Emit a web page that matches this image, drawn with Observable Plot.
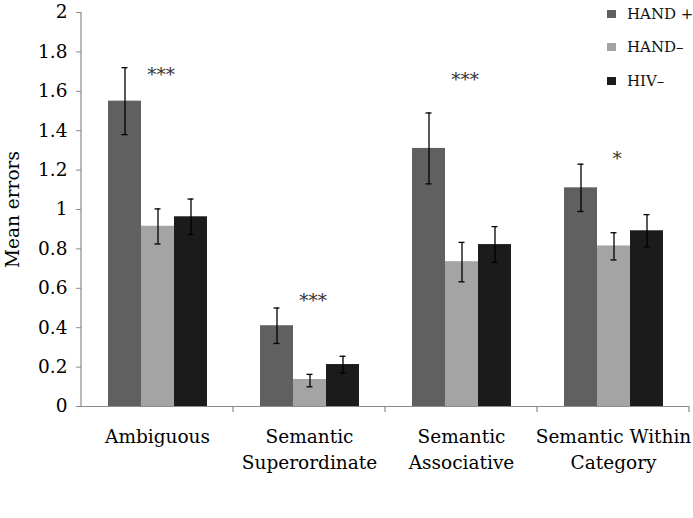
<!DOCTYPE html>
<html><head><meta charset="utf-8">
<script src="https://cdn.jsdelivr.net/npm/d3@7"></script>
<script src="https://cdn.jsdelivr.net/npm/@observablehq/plot@0.6"></script>
<style>
body{margin:0;background:#fff;}
#wrap{position:relative;width:693px;height:518px;font-family:"DejaVu Serif",serif;}
#legend{position:absolute;left:607px;top:0;font-size:15px;color:#111;}
#legend .row{position:absolute;left:0;display:flex;align-items:center;white-space:nowrap;height:20px;}
#legend .sw{width:9px;height:8px;margin-right:11px;}
</style></head><body><div id="wrap"><div id="legend"></div></div>
<script>
const categories = ["Ambiguous", "Semantic\nSuperordinate", "Semantic\nAssociative", "Semantic Within\nCategory"];
const groups = ["HAND +", "HAND–", "HIV–"];
const colors = ["#606060", "#a4a4a4", "#1b1b1b"];

const handPlus   = [1.55, 0.41, 1.31, 1.11];
const handPlusLo = [1.38, 0.32, 1.13, 0.99];
const handPlusHi = [1.72, 0.50, 1.49, 1.23];

const handMinus   = [0.915, 0.137, 0.735, 0.815];
const handMinusLo = [0.825, 0.10, 0.633, 0.744];
const handMinusHi = [1.003, 0.163, 0.833, 0.882];

const hivMinus   = [0.963, 0.213, 0.822, 0.892];
const hivMinusLo = [0.873, 0.17, 0.732, 0.81];
const hivMinusHi = [1.053, 0.255, 0.913, 0.974];

const starLabels = ["***", "***", "***", "*"];
const starY = [1.70, 0.55, 1.67, 1.27];

const yTicks = [0, 0.2, 0.4, 0.6, 0.8, 1, 1.2, 1.4, 1.6, 1.8, 2];

const series = [
  [handPlus, handPlusLo, handPlusHi],
  [handMinus, handMinusLo, handMinusHi],
  [hivMinus, hivMinusLo, hivMinusHi]
];
const rows = [];
categories.forEach((cat, i) => {
  groups.forEach((g, j) => {
    rows.push({cat, group: g, value: series[j][0][i], lo: series[j][1][i], hi: series[j][2][i]});
  });
});
const stars = categories.map((cat, i) => ({cat, label: starLabels[i], y: starY[i]}));

const chart = Plot.plot({
  width: 693,
  height: 518,
  marginLeft: 81,
  marginRight: 4,
  marginTop: 12,
  marginBottom: 112,
  style: {fontFamily: "DejaVu Serif, serif", fontSize: "18.5px", color: "#000", background: "#fff"},
  fx: {domain: categories, padding: 0},
  x: {domain: groups, paddingInner: 0, paddingOuter: 0.755, axis: null},
  y: {domain: [0, 2]},
  color: {domain: groups, range: colors},
  marks: [
    Plot.barY(rows, {fx: "cat", x: "group", y: "value", fill: "group"}),
    Plot.ruleX(rows, {fx: "cat", x: "group", y1: "lo", y2: "hi", stroke: "#000", strokeWidth: 1.3}),
    Plot.tickY(rows, {fx: "cat", x: "group", y: "hi", stroke: "#000", strokeWidth: 1.3, insetLeft: 13.5, insetRight: 13.5}),
    Plot.tickY(rows, {fx: "cat", x: "group", y: "lo", stroke: "#000", strokeWidth: 1.3, insetLeft: 13.5, insetRight: 13.5}),
    Plot.ruleY([0], {stroke: "#8a8a8a", strokeWidth: 1.2}),
    Plot.text(stars, {fx: "cat", x: () => groups[1], y: "y", text: "label", fill: "#333", fontSize: 18.5, lineAnchor: "middle", dx: 3, dy: 3}),
    Plot.axisY({ticks: yTicks, tickFormat: d3.format(""), tickSize: 5, tickPadding: 9, stroke: "#8a8a8a",
      label: "Mean errors", labelArrow: "none", labelAnchor: "center", labelOffset: 76, dy: 0}),
    Plot.axisFx({anchor: "bottom", tickSize: 0, tickPadding: 18, label: null, lineHeight: 1.4})
  ]
});

document.getElementById("wrap").prepend(chart);

// axis line and category boundary ticks from the plot's own scales
const fxS = chart.scale("fx");
const yS = chart.scale("y");
const svg = d3.select(chart);
const y0 = yS.apply(0);
const edges = categories.map(c => fxS.apply(c)).concat([fxS.apply(categories[categories.length - 1]) + fxS.bandwidth]);
const g = svg.append("g").attr("stroke", "#8a8a8a").attr("stroke-width", 1.2);
g.append("line").attr("x1", edges[0]).attr("x2", edges[0]).attr("y1", yS.apply(2)).attr("y2", y0);
edges.slice(1).forEach(x => {
  g.append("line").attr("x1", x).attr("x2", x).attr("y1", y0).attr("y2", y0 + 6);
});

// legend
const legend = document.getElementById("legend");
const legendTops = [4, 37, 71];
groups.forEach((gname, i) => {
  const row = document.createElement("div");
  row.className = "row";
  row.style.top = legendTops[i] + "px";
  row.innerHTML = `<span class="sw" style="background:${colors[i]}"></span><span>${gname}</span>`;
  legend.appendChild(row);
});
</script>
</body></html>
